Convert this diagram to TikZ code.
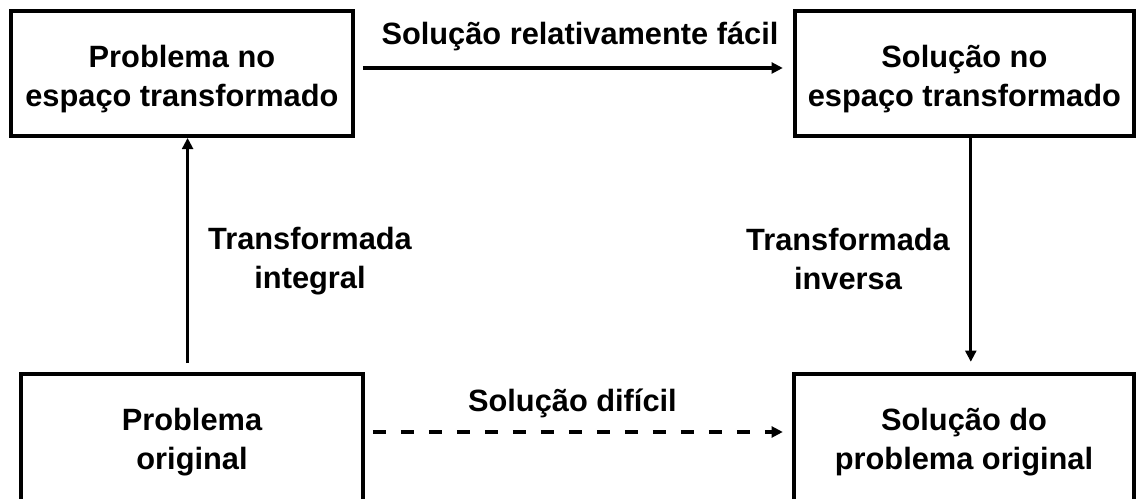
\documentclass[tikz,border=0pt]{standalone}
\usepackage{fontspec}
\setmainfont{Liberation Sans}
\usetikzlibrary{arrows.meta}

\tikzset{
	caixa/.style={draw, line width=2.8pt, align=center, inner sep=0pt, font=\fontsize{21.9}{27.3}\selectfont\bfseries},
	rotulo/.style={align=center, inner sep=0pt, font=\fontsize{21.9}{27.3}\selectfont\bfseries},
	seta/.style={line width=2.4pt, -{Triangle[length=0.28cm,width=0.27cm]}}
}
\newcommand{\alto}{\rule{0pt}{24pt}}

\begin{document}
\begin{tikzpicture}
	\useasboundingbox[fill=white] (0,0) rectangle (28.4,12.475);
	\node[caixa, minimum width=8.555cm, minimum height=3.125cm] (PT) at (4.548,10.64){\alto Problema no\\espaço transformado};
	\node[caixa, minimum width=8.48cm, minimum height=3.125cm] (ST) at (24.11,10.64){\alto Solução no\\espaço transformado};
	\node[caixa, minimum width=8.56cm, minimum height=3.425cm] (PO) at (4.8,1.4175){Problema\\original};
	\node[caixa, minimum width=8.52cm, minimum height=3.425cm] (SO) at (24.1,1.4175){Solução do\\problema original};
	\node[rotulo, anchor=base] (L1) at (14.5,11.35){Solução relativamente fácil};
	\node[rotulo, anchor=base] (L2) at (14.31,2.175){Solução difícil};
	\node[rotulo] (L3) at (7.75,5.95){Transformada\\integral};
	\node[rotulo] (L4) at (21.2,6.0){Transformada\\inversa};
	\draw[seta, shorten <=0.2cm, shorten >=0.25cm] ([yshift=0.135cm]PT.east) -- ([yshift=0.135cm]PT.east -| ST.west);
	\draw[seta, dash pattern=on 0.33cm off 0.37cm, shorten <=0.19cm, shorten >=0.22cm] ([yshift=0.2575cm]PO.east) -- ([yshift=0.2575cm]PO.east -| SO.west);
	\draw[seta, shorten <=0.22cm] ([xshift=-0.11cm]PO.north) -- ([xshift=-0.11cm]PO.north |- PT.south);
	\draw[seta, shorten >=0.25cm] ([xshift=0.16cm]ST.south) -- ([xshift=0.16cm]ST.south |- SO.north);
\end{tikzpicture}
\end{document}
